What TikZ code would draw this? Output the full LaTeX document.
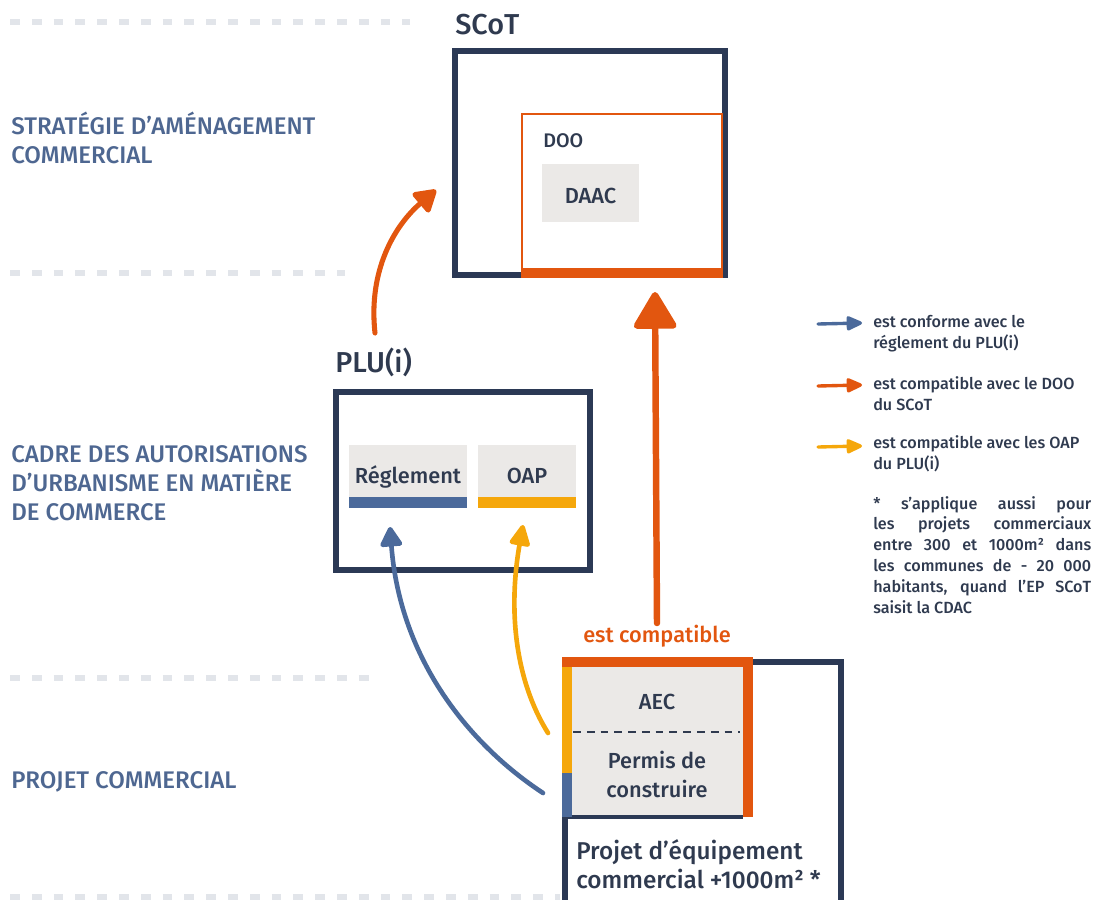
\documentclass[tikz,border=0pt]{standalone}
\usepackage{fontspec}
\setmainfont{Fira Sans}[UprightFont={* Medium}]
\usetikzlibrary{arrows.meta,positioning}
\definecolor{navy}{HTML}{2B3955}
\definecolor{orng}{HTML}{E2560F}
\definecolor{blu}{HTML}{4B6A9B}
\definecolor{ylw}{HTML}{F5A70B}
\definecolor{lgray}{HTML}{EBE9E7}
\definecolor{lblue}{HTML}{4E6791}
\definecolor{sepgray}{HTML}{E2E5EA}
\definecolor{ink}{HTML}{2F3A4F}

\begin{document}
\begin{tikzpicture}[x=0.025cm,y=-0.025cm,
  frame/.style={draw=navy,line width=4.27pt,inner sep=0pt},
  wh/.style 2 args={minimum width=#1*0.025cm,minimum height=#2*0.025cm},
  tag/.style={fill=lgray,inner sep=0pt},
  lbl/.style={text=lblue,align=left,font=\fontsize{17.1}{20.3}\selectfont,inner sep=0pt,anchor=base west},
  ttl/.style={text=ink,font=\fontsize{20.5}{25}\selectfont,inner sep=0pt,anchor=base west},
  txt/.style={text=ink,font=\fontsize{15.5}{20.6}\selectfont,inner sep=0pt,align=center,anchor=base},
  leg/.style={text=ink,align=left,font=\fontsize{11.5}{14.4}\selectfont,inner sep=0pt,anchor=base west},
  hand/.style={line width=3.3pt,line cap=round},
  sep/.style={draw=sepgray,line width=4pt,dash pattern=on 7pt off 8.5pt}]
\useasboundingbox (0,0) rectangle (1099,900);

% separators
\draw[sep] (10,22) -- (410,22);
\draw[sep] (10,273) -- (345,273);
\draw[sep] (10,678) -- (380,678);
\draw[sep] (10,897) -- (560,897);

% level labels (base = last line)
\node[lbl] (strat) at (11,163) {STRATÉGIE D’AMÉNAGEMENT\\COMMERCIAL};
\node[lbl] (cadre) at (11,520) {CADRE DES AUTORISATIONS\\D’URBANISME EN MATIÈRE\\DE COMMERCE};
\node[lbl] (projlbl) at (11,788) {PROJET COMMERCIAL};

% SCoT
\node[frame,wh={270}{224}] (scot) at (590,163) {};
\node[ttl] (scotlbl) at (455,35) {SCoT};
\node[draw=orng,line width=1.4pt,inner sep=0pt,wh={200}{162}] (doo) at (622,195) {};
\fill[orng] (521,268) rectangle (723,278);
\node[txt,font=\fontsize{14}{17}\selectfont,anchor=base west] (doolbl) at (543,147) {DOO};
\node[tag,wh={97}{58}] (daac) at (590.5,193) {};
\node[txt] at (590.5,203) {DAAC};

% PLU(i)
\node[frame,wh={254}{178}] (plu) at (463,481) {};
\node[ttl] (plulbl) at (335,372) {PLU(i)};
\node[tag,wh={118}{52}] (reg) at (408,471) {};
\node[tag,wh={98}{52}] (oap) at (527,471) {};
\fill[blu] (349,497) rectangle (467,508);
\fill[ylw] (478,497) rectangle (576,508);
\node[txt] at (408,483) {Réglement};
\node[txt] at (527,483) {OAP};

% projet
\node[frame,wh={276}{250}] (proj) at (702.5,786.5) {};
\node[tag,wh={171}{150}] (aec) at (657.5,742) {};
\draw[navy,line width=2.2pt] (562,817) -- (743,817);
\fill[orng] (562,657) rectangle (753,667);
\fill[orng] (743,657) rectangle (753,817);
\fill[ylw] (562,667) rectangle (572,773);
\fill[blu] (562,773) rectangle (572,817);
\draw[ink,line width=1.5pt,dash pattern=on 5.5pt off 4.3pt] (573,732) -- (740,732);
\node[txt] at (657,709) {AEC};
\node[txt] at (657,797) {Permis de\\construire};
\node[txt,font=\fontsize{17.3}{20.6}\selectfont,align=left,anchor=base west] (projtxt) at (576,888) {Projet d’équipement\\commercial +1000m² *};
\node[txt,text=orng] (compat) at (657,642) {est compatible};

% connectors
\coordinate (a1s) at (375,333);
\coordinate (a1e) at (436,190);
\coordinate (a2s) at (657,623);
\coordinate (a2e) at (655,292);
\coordinate (a3s) at (543,793);
\coordinate (a3e) at (390,527);
\coordinate (a4s) at (548,733);
\coordinate (a4e) at (523,525);
\draw[hand,orng,line width=3.6pt,-{Triangle[round,length=0.6cm,width=0.7cm]}] (a1s) .. controls (368,270) and (395,225) .. (a1e);
\draw[hand,orng,line width=4.6pt,-{Triangle[round,length=1.0cm,width=1.15cm]}] (a2s) -- (a2e);
\draw[hand,blu,-{Triangle[round,length=0.55cm,width=0.6cm]}] (a3s) .. controls (470,745) and (400,660) .. (a3e);
\draw[hand,ylw,-{Triangle[round,length=0.6cm,width=0.55cm]}] (a4s) .. controls (515,680) and (508,610) .. (a4e);

% legend
\foreach \c/\y [count=\i] in {blu/324,orng/386,ylw/447} {
  \coordinate (l\i s) at (818,\y);
  \coordinate (l\i e) at (862,\y-1);
  \draw[hand,\c,line width=2.4pt,-{Triangle[round,length=0.45cm,width=0.38cm]}] (l\i s) -- (l\i e);
}
\node[leg] (leg1) at (873,348) {est conforme avec le\\réglement du PLU(i)};
\node[leg] (leg2) at (873,410) {est compatible avec le DOO\\du SCoT};
\node[leg] (leg3) at (873,469) {est compatible avec les OAP\\du PLU(i)};
\node[leg,text width=155pt,align=justify,font=\fontsize{11.5}{14.8}\selectfont] (note) at (873,509)
  {* s’applique aussi pour\linebreak les projets commerciaux\linebreak entre 300 et 1000m² dans\linebreak les communes de - 20 000\linebreak habitants, quand l’EP SCoT\linebreak saisit la CDAC};
\end{tikzpicture}
\end{document}
